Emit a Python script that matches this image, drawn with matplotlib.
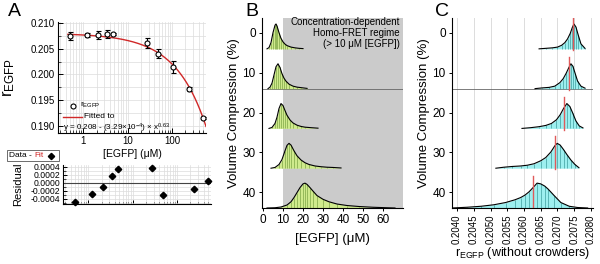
import numpy as np
import matplotlib
matplotlib.use('Agg')
import matplotlib.pyplot as plt
from matplotlib.patches import Rectangle
from matplotlib.lines import Line2D
from matplotlib.ticker import FixedLocator, NullFormatter, LogLocator, MultipleLocator, FixedFormatter

plt.rcParams['font.family'] = ['Liberation Sans', 'DejaVu Sans']
plt.rcParams['mathtext.fontset'] = 'custom'
plt.rcParams['mathtext.rm'] = 'Liberation Sans'
plt.rcParams['mathtext.it'] = 'Liberation Sans:italic'
plt.rcParams['mathtext.bf'] = 'Liberation Sans:bold'

# ---------------- Panel A data ----------------
conc = [0.51, 1.23, 2.2, 3.4, 4.7, 27, 49, 105, 240, 500]
r_egfp = [0.2075, 0.2077, 0.2077, 0.2078, 0.2078, 0.2061, 0.2040, 0.2014, 0.1972, 0.1915]
r_err = [0.0008, 0.0004, 0.00075, 0.00075, 0.0002, 0.001, 0.0009, 0.0012, 0.0004, 0.0002]
residual = [-0.00047, -0.00028, -0.00009, 0.00017, 0.00036, 0.00038, -0.0003, np.nan, -0.00015, 0.00004]
fit_a, fit_b, fit_c = 0.208, 3.29e-4, 0.63
a_yticks = [0.190, 0.195, 0.200, 0.205, 0.210]
a_xticks = [1, 10, 100]
res_yticks = [-0.0004, -0.0002, 0.0, 0.0002, 0.0004]

# ---------------- Panel B / C data ----------------
compression = [0, 10, 20, 30, 40]
b_x = [
    [2, 3, 4, 5, 6, 6.5, 7, 8, 9, 10, 11, 12, 14, 16, 18, 20],
    [2.5, 3.5, 4.5, 5.5, 6.5, 7.5, 8.5, 9.5, 10.5, 11.5, 13, 15, 17, 19, 22],
    [3, 4.5, 6, 7, 8, 9, 10, 11, 12, 13.5, 15, 17, 19, 21, 24, 27.5],
    [4, 6, 8, 9.5, 11, 12, 13, 14, 15.5, 17, 19, 21, 23, 26, 29, 32, 35, 39],
    [2, 6, 9, 12, 14, 15.5, 17, 18.5, 20, 21, 22, 23.5, 25, 27, 30, 33, 37, 42, 48, 55, 62, 66],
]
b_y = [
    [0, 0.05, 0.25, 0.65, 0.95, 1.0, 0.92, 0.65, 0.42, 0.28, 0.19, 0.13, 0.07, 0.04, 0.02, 0.01],
    [0, 0.06, 0.22, 0.55, 0.88, 1.0, 0.85, 0.6, 0.42, 0.3, 0.18, 0.1, 0.06, 0.04, 0.01],
    [0, 0.04, 0.2, 0.45, 0.8, 1.0, 0.92, 0.72, 0.53, 0.34, 0.22, 0.13, 0.08, 0.05, 0.03, 0.01],
    [0, 0.03, 0.15, 0.35, 0.7, 0.92, 1.0, 0.93, 0.7, 0.5, 0.33, 0.22, 0.15, 0.09, 0.06, 0.04, 0.03, 0.01],
    [0, 0.01, 0.04, 0.12, 0.25, 0.42, 0.62, 0.82, 0.97, 1.0, 0.95, 0.82, 0.68, 0.5, 0.35, 0.25, 0.16, 0.1, 0.06, 0.03, 0.01, 0],
]
b_xticks = [0, 10, 20, 30, 40, 50, 60]

c_x = [
    [0.20645, 0.20665, 0.20685, 0.20700, 0.20712, 0.20722, 0.20730, 0.20738, 0.20744, 0.20749, 0.20755, 0.20762, 0.20770, 0.20782],
    [0.20633, 0.20655, 0.20675, 0.20692, 0.20707, 0.20717, 0.20726, 0.20734, 0.20740, 0.20746, 0.20753, 0.20760, 0.20770, 0.20782],
    [0.20594, 0.20620, 0.20645, 0.20665, 0.20682, 0.20697, 0.20708, 0.20718, 0.20728, 0.20737, 0.20746, 0.20755, 0.20765, 0.20776],
    [0.20516, 0.20540, 0.20565, 0.20590, 0.20610, 0.20630, 0.20650, 0.20665, 0.20680, 0.20692, 0.20699, 0.20708, 0.20718, 0.20728, 0.20740, 0.20752, 0.20764],
    [0.20385, 0.20430, 0.20472, 0.20510, 0.20545, 0.20573, 0.20590, 0.20603, 0.20615, 0.20627, 0.20639, 0.20650, 0.20662, 0.20672, 0.20690, 0.20710, 0.20735, 0.20760, 0.20790],
]
c_y = [
    [0, 0.02, 0.04, 0.07, 0.14, 0.25, 0.4, 0.62, 0.85, 1.0, 0.88, 0.55, 0.2, 0.02],
    [0, 0.03, 0.05, 0.1, 0.24, 0.4, 0.62, 0.85, 1.0, 0.9, 0.6, 0.3, 0.1, 0.02],
    [0, 0.03, 0.07, 0.12, 0.2, 0.35, 0.55, 0.8, 1.0, 0.88, 0.6, 0.3, 0.1, 0.02],
    [0, 0.04, 0.07, 0.09, 0.12, 0.18, 0.3, 0.43, 0.65, 0.9, 1.0, 0.93, 0.75, 0.55, 0.33, 0.15, 0.02],
    [0, 0.03, 0.07, 0.13, 0.22, 0.33, 0.42, 0.52, 0.65, 0.82, 1.0, 0.97, 0.88, 0.76, 0.5, 0.22, 0.07, 0.02, 0],
]
c_median = [0.20745, 0.20733, 0.20719, 0.20693, 0.20627]
c_xticks = [0.2040, 0.2045, 0.2050, 0.2055, 0.2060, 0.2065, 0.2070, 0.2075, 0.2080]

W, Hh = 600, 264
fig = plt.figure(figsize=(6, 2.64), dpi=100)


def rect(l, t, r, b):
    return [l / W, 1 - b / Hh, (r - l) / W, (b - t) / Hh]


RED = '#d02828'
GRID = '#dcdcdc'

# ---------------- Panel A (top) ----------------
axA = fig.add_axes(rect(58, 22, 206, 133))
axA.set_xscale('log')
axA.set_xlim(0.27, 580)
axA.set_ylim(0.1886, 0.2102)
xf = np.logspace(np.log10(0.45), np.log10(580), 300)
axA.plot(xf, fit_a - fit_b * xf ** fit_c, color=RED, lw=1.0, zorder=3)
axA.errorbar(conc, r_egfp, yerr=r_err, fmt='o', ms=3.6, mfc='white', mec='black', mew=0.8,
             ecolor='black', elinewidth=0.8, capsize=1.8, capthick=0.8, zorder=4)
axA.yaxis.set_major_locator(FixedLocator(a_yticks))
axA.yaxis.set_minor_locator(MultipleLocator(0.0025))
axA.set_yticklabels(['%.3f' % v for v in a_yticks])
axA.xaxis.set_major_locator(FixedLocator(a_xticks))
axA.xaxis.set_major_formatter(FixedFormatter([str(v) for v in a_xticks]))
axA.xaxis.set_minor_locator(LogLocator(base=10, subs=np.arange(2, 10)))
axA.xaxis.set_minor_formatter(NullFormatter())
axA.grid(True, which='both', color=GRID, lw=0.5)
axA.set_axisbelow(True)
for s in ['top', 'right']:
    axA.spines[s].set_visible(False)
axA.tick_params(which='both', direction='in', labelsize=7, pad=2)
axA.tick_params(which='major', length=3.5, width=0.7)
axA.tick_params(which='minor', length=2, width=0.5)
axA.set_xlabel('[EGFP] (\u03bcM)', fontsize=7.5, labelpad=2)
axA.set_ylabel('$\\mathregular{r_{EGFP}}$', fontsize=12)
axA.yaxis.set_label_coords(-0.28, 0.5)
# legend (manual)
axA.plot([0.101], [0.245], 'o', ms=3.6, mfc='white', mec='black', mew=0.8, transform=axA.transAxes, clip_on=False, zorder=6)
axA.text(0.15, 0.25, '$\\mathregular{r_{EGFP}}$', transform=axA.transAxes, fontsize=6.0, va='center')
axA.plot([0.034, 0.162], [0.148, 0.148], color=RED, lw=1.0, transform=axA.transAxes, zorder=6)
axA.text(0.176, 0.148, 'Fitted to', transform=axA.transAxes, fontsize=6.0, va='center')
axA.text(0.034, 0.045, 'y = 0.208 - (3.29\u00d710$\\mathregular{^{-4}}$) \u00d7 x$\\mathregular{^{0.63}}$',
         transform=axA.transAxes, fontsize=5.8, va='center')

# ---------------- Panel A (residual) ----------------
axR = fig.add_axes(rect(63, 165, 211, 204))
axR.set_xscale('log')
axR.set_xlim(0.27, 580)
axR.set_ylim(-0.000525, 0.00045)
axR.axhline(0, color='#444444', lw=0.8, zorder=2)
axR.plot(conc, residual, 'D', color='black', ms=3.3, zorder=4, clip_on=False)
axR.yaxis.set_major_locator(FixedLocator(res_yticks))
axR.set_yticklabels(['%.4f' % v for v in res_yticks])
axR.yaxis.set_minor_locator(MultipleLocator(0.0001))
axR.xaxis.set_major_locator(FixedLocator(a_xticks))
axR.xaxis.set_minor_locator(LogLocator(base=10, subs=np.arange(2, 10)))
axR.xaxis.set_major_formatter(NullFormatter())
axR.xaxis.set_minor_formatter(NullFormatter())
axR.grid(True, which='both', color=GRID, lw=0.5)
axR.set_axisbelow(True)
for s in ['top', 'right']:
    axR.spines[s].set_visible(False)
axR.tick_params(which='both', direction='in', labelsize=6.2, pad=2)
axR.tick_params(which='major', length=3, width=0.7)
axR.tick_params(which='minor', length=1.8, width=0.5)
axR.set_ylabel('Residual', fontsize=8)
axR.yaxis.set_label_coords(-0.27, 0.5)
# Data - Fit box
fig.patches.append(Rectangle((7 / W, 1 - 161 / Hh), 52 / W, 11 / Hh, transform=fig.transFigure,
                             fill=False, ec='#555555', lw=0.6))
fig.text(9 / W, 1 - 155.5 / Hh, 'Data -', fontsize=6.0, va='center')
fig.text(34 / W, 1 - 155.5 / Hh, 'Fit', fontsize=6.0, va='center', color=RED)
fig.lines.append(Line2D([51 / W], [1 - 155.5 / Hh], marker='D', color='black', ms=3.2,
                        transform=fig.transFigure))

# ---------------- Panel B ----------------
RH = 6.25
axB = fig.add_axes(rect(262, 18, 403, 208))
axB.axvspan(10, 70, color='#cbcbcb', lw=0, zorder=0)
axB.axhline(10 + 4, color='#666666', lw=0.6, zorder=1)
for c, xs, ys in zip(compression, b_x, b_y):
    xs = np.asarray(xs, float)
    ys = np.asarray(ys, float)
    base = c + 4
    top = base - RH * ys
    axB.fill_between(xs, base, top, color='#cfea8c', lw=0, zorder=2)
    axB.vlines(xs, base, top, color='#7ea646', lw=0.5, zorder=3)
    axB.plot(xs, top, color='black', lw=0.8, zorder=4)
axB.set_xlim(-0.5, 70)
axB.set_ylim(44, -3.75)
axB.set_xticks(b_xticks)
axB.set_yticks(compression)
for s in ['top', 'right']:
    axB.spines[s].set_visible(False)
axB.tick_params(labelsize=8.5, length=2.5, width=0.7, pad=2)
axB.set_xlabel('[EGFP] (\u03bcM)', fontsize=9.5, labelpad=5)
axB.set_ylabel('Volume Compression (%)', fontsize=9.5, labelpad=2)
axB.text(68.5, 0.0, 'Concentration-dependent\nHomo-FRET regime\n(> 10 \u03bcM [EGFP])',
         ha='right', va='center', fontsize=7, linespacing=1.15, zorder=5)

# ---------------- Panel C ----------------
axC = fig.add_axes(rect(452, 18, 593, 208))
for t in c_xticks:
    axC.axvline(t, color=GRID, lw=0.7, zorder=0)
axC.axhline(10 + 4, color='#666666', lw=0.6, zorder=1)
for c, xs, ys, med in zip(compression, c_x, c_y, c_median):
    xs = np.asarray(xs, float)
    ys = np.asarray(ys, float)
    base = c + 4
    top = base - RH * ys
    axC.fill_between(xs, base, top, color='#9defef', lw=0, zorder=2)
    axC.vlines(xs, base, top, color='#3f9e9e', lw=0.5, zorder=3)
    axC.plot(xs, top, color='black', lw=0.8, zorder=4)
    axC.plot([med, med], [base + 0.3, base - 8.0], color='#e05a5a', lw=1.0, zorder=5)
axC.set_xlim(0.20385, 0.20806)
axC.set_ylim(44, -3.75)
axC.set_xticks(c_xticks)
axC.set_xticklabels(['%.4f' % t for t in c_xticks], rotation=90, fontsize=7)
axC.set_yticks(compression)
for s in ['top', 'right']:
    axC.spines[s].set_visible(False)
axC.tick_params(axis='y', labelsize=8.5)
axC.tick_params(length=2.5, width=0.7, pad=2)
axC.set_xlabel('$\\mathregular{r_{EGFP}}$ (without crowders)', fontsize=9, labelpad=1)
axC.set_ylabel('Volume Compression (%)', fontsize=9.5, labelpad=2)

# Panel letters
fig.text(8 / W, 1 - 12 / Hh, 'A', fontsize=14, va='center')
fig.text(245 / W, 1 - 12 / Hh, 'B', fontsize=14, va='center')
fig.text(435 / W, 1 - 12 / Hh, 'C', fontsize=14, va='center')

fig.savefig('out.png', dpi=100)
